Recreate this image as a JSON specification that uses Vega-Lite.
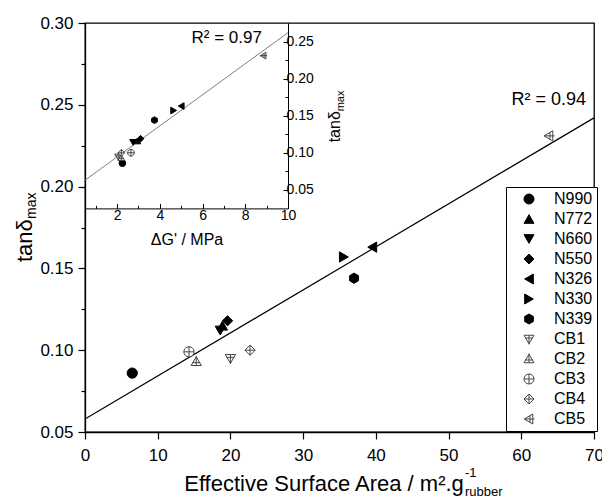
{
  "$schema": "https://vega.github.io/schema/vega-lite/v6.json",
  "width": 509,
  "height": 409,
  "autosize": {"type": "none"},
  "padding": {"left": 85, "top": 23, "right": 8, "bottom": 69},
  "background": "white",
  "config": {
    "font": "Liberation Sans",
    "view": {"stroke": "black", "strokeWidth": 1.3},
    "axis": {"grid": false, "domainColor": "black", "tickColor": "black", "labelColor": "black", "titleColor": "black", "labelFont": "Liberation Sans", "titleFont": "Liberation Sans", "titleFontWeight": "normal", "domainWidth": 1.3, "tickWidth": 1.2},
    "text": {"font": "Liberation Sans", "color": "black"}
  },
  "datasets": {
    "main": [
      {"grade": "N990", "esa": 6.5, "tand": 0.086},
      {"grade": "N772", "esa": 18.9, "tand": 0.115},
      {"grade": "N660", "esa": 18.6, "tand": 0.112},
      {"grade": "N550", "esa": 19.6, "tand": 0.118},
      {"grade": "N326", "esa": 39.5, "tand": 0.163},
      {"grade": "N330", "esa": 35.6, "tand": 0.157},
      {"grade": "N339", "esa": 37.0, "tand": 0.144},
      {"grade": "CB1", "esa": 20.0, "tand": 0.095},
      {"grade": "CB2", "esa": 15.3, "tand": 0.093},
      {"grade": "CB3", "esa": 14.3, "tand": 0.099},
      {"grade": "CB4", "esa": 22.7, "tand": 0.100},
      {"grade": "CB5", "esa": 63.8, "tand": 0.231}
    ],
    "inset": [
      {"grade": "N990", "dg": 2.25, "tand": 0.086},
      {"grade": "N772", "dg": 2.95, "tand": 0.116},
      {"grade": "N660", "dg": 2.75, "tand": 0.114},
      {"grade": "N550", "dg": 3.1, "tand": 0.119},
      {"grade": "N326", "dg": 5.0, "tand": 0.163},
      {"grade": "N330", "dg": 4.65, "tand": 0.157},
      {"grade": "N339", "dg": 3.75, "tand": 0.144},
      {"grade": "CB1", "dg": 2.05, "tand": 0.095},
      {"grade": "CB2", "dg": 2.2, "tand": 0.093},
      {"grade": "CB3", "dg": 2.65, "tand": 0.1},
      {"grade": "CB4", "dg": 2.2, "tand": 0.1},
      {"grade": "CB5", "dg": 8.85, "tand": 0.231}
    ],
    "fitMain": [
      {"esa": 0, "tand": 0.058},
      {"esa": 70, "tand": 0.242}
    ],
    "fitInset": [
      {"dg": 0.5, "tand": 0.063},
      {"dg": 10, "tand": 0.262}
    ],
    "one": [{"k": 1}]
  },
  "layer": [
    {
      "layer": [
        {
          "data": {"name": "fitMain"},
          "mark": {"type": "line", "color": "black", "strokeWidth": 1.2},
          "encoding": {
            "x": {"field": "esa", "type": "quantitative", "scale": {"domain": [0, 70], "nice": false, "zero": false},
              "axis": {"orient": "bottom", "title": null, "values": [0, 5, 10, 15, 20, 25, 30, 35, 40, 45, 50, 55, 60, 65, 70],
                "labelExpr": "datum.value % 10 == 0 ? datum.label : ''",
                "tickSize": {"condition": {"test": "datum.value % 10 == 0", "value": 7}, "value": 4},
                "labelFontSize": 17, "labelPadding": 8, "labelFlush": false}},
            "y": {"field": "tand", "type": "quantitative", "scale": {"domain": [0.05, 0.3], "nice": false, "zero": false},
              "axis": {"orient": "left", "title": null, "values": [0.05, 0.075, 0.1, 0.125, 0.15, 0.175, 0.2, 0.225, 0.25, 0.275, 0.3],
                "labelExpr": "abs(round(datum.value * 1000) % 50) < 1 ? format(datum.value, '.2f') : ''",
                "tickSize": {"condition": {"test": "abs(round(datum.value * 1000) % 50) < 1", "value": 7}, "value": 4},
                "labelFontSize": 17, "labelPadding": 5}}
          }
        },
        {
          "data": {"name": "main"},
          "mark": {"type": "point", "size": 105, "opacity": 1, "fillOpacity": 1, "strokeWidth": 1},
          "encoding": {
            "x": {"field": "esa", "type": "quantitative"},
            "y": {"field": "tand", "type": "quantitative"},
            "shape": {"field": "grade", "type": "nominal",
              "scale": {"domain": ["N990", "N772", "N660", "N550", "N326", "N330", "N339", "CB1", "CB2", "CB3", "CB4", "CB5"],
                "range": ["circle", "triangle-up", "triangle-down", "diamond", "triangle-left", "triangle-right",
                  "M0,-1L0.866,-0.5L0.866,0.5L0,1L-0.866,0.5L-0.866,-0.5Z",
                  "M-1,-0.75L1,-0.75L0,0.95Z M0,-0.75V1.1 M-0.75,-0.2H0.75",
                  "M-1,0.75L1,0.75L0,-0.95Z M0,-1.1V0.75 M-0.75,0.2H0.75",
                  "M1,0A1,1,0,1,1,-1,0A1,1,0,1,1,1,0Z M-1,0H1 M0,-1V1",
                  "M0,-1L1,0L0,1L-1,0Z M-1,0H1 M0,-1V1",
                  "M-0.95,0L0.75,-1L0.75,1Z M-0.95,0H1.1 M0.2,-0.7V0.7"]},
              "legend": {"orient": "none", "legendX": 421, "legendY": 164, "title": null, "padding": 4, "strokeColor": "black", "fillColor": "white", "labelFontSize": 16, "labelFont": "Liberation Sans", "symbolSize": 100, "symbolOffset": 11, "labelOffset": 17, "rowPadding": 4, "symbolStrokeWidth": 1, "labelLimit": 0}},
            "fill": {"field": "grade", "type": "nominal",
              "scale": {"domain": ["N990", "N772", "N660", "N550", "N326", "N330", "N339", "CB1", "CB2", "CB3", "CB4", "CB5"],
                "range": ["black", "black", "black", "black", "black", "black", "black", "white", "white", "white", "white", "white"]},
              "legend": {"orient": "none", "legendX": 421, "legendY": 164, "title": null, "padding": 4, "strokeColor": "black", "fillColor": "white", "labelFontSize": 16, "labelFont": "Liberation Sans", "symbolSize": 100, "symbolOffset": 11, "labelOffset": 17, "rowPadding": 4, "symbolStrokeWidth": 1, "labelLimit": 0}},
            "stroke": {"field": "grade", "type": "nominal",
              "scale": {"domain": ["N990", "N772", "N660", "N550", "N326", "N330", "N339", "CB1", "CB2", "CB3", "CB4", "CB5"],
                "range": ["black", "black", "black", "black", "black", "black", "black", "#444444", "#444444", "#444444", "#444444", "#444444"]},
              "legend": {"orient": "none", "legendX": 421, "legendY": 164, "title": null, "padding": 4, "strokeColor": "black", "fillColor": "white", "labelFontSize": 16, "labelFont": "Liberation Sans", "symbolSize": 100, "symbolOffset": 11, "labelOffset": 17, "rowPadding": 4, "symbolStrokeWidth": 1, "labelLimit": 0}}
          }
        },
        {
          "data": {"name": "one"},
          "mark": {"type": "text", "text": "R² = 0.94", "align": "right", "baseline": "middle", "fontSize": 18},
          "encoding": {"x": {"datum": 68.9, "type": "quantitative"}, "y": {"datum": 0.2528, "type": "quantitative"}}
        },
        {
          "data": {"name": "one"},
          "mark": {"type": "text", "text": "Effective Surface Area / m².g", "align": "right", "baseline": "alphabetic", "fontSize": 22},
          "encoding": {"x": {"datum": 52.1, "type": "quantitative"}, "y": {"datum": 0.0137, "type": "quantitative"}}
        },
        {
          "data": {"name": "one"},
          "mark": {"type": "text", "text": "-1", "align": "left", "baseline": "alphabetic", "fontSize": 13},
          "encoding": {"x": {"datum": 52.25, "type": "quantitative"}, "y": {"datum": 0.0223, "type": "quantitative"}}
        },
        {
          "data": {"name": "one"},
          "mark": {"type": "text", "text": "rubber", "align": "left", "baseline": "alphabetic", "fontSize": 13},
          "encoding": {"x": {"datum": 52.25, "type": "quantitative"}, "y": {"datum": 0.0108, "type": "quantitative"}}
        },
        {
          "data": {"name": "one"},
          "mark": {"type": "text", "text": "tanδ", "align": "left", "baseline": "alphabetic", "fontSize": 22, "angle": 270},
          "encoding": {"x": {"datum": -7.29, "type": "quantitative"}, "y": {"datum": 0.1539, "type": "quantitative"}}
        },
        {
          "data": {"name": "one"},
          "mark": {"type": "text", "text": "max", "align": "left", "baseline": "alphabetic", "fontSize": 14, "angle": 270},
          "encoding": {"x": {"datum": -6.74, "type": "quantitative"}, "y": {"datum": 0.1802, "type": "quantitative"}}
        }
      ]
    },
    {
      "layer": [
        {
          "data": {"name": "fitInset"},
          "mark": {"type": "line", "color": "#808080", "strokeWidth": 1},
          "encoding": {
            "x": {"field": "dg", "type": "quantitative", "scale": {"domain": [0.5, 10], "range": [0, 203], "nice": false, "zero": false},
              "axis": {"orient": "bottom", "offset": -223.6, "title": "ΔG' / MPa", "titleFontSize": 16, "titlePadding": 9,
                "values": [1, 2, 3, 4, 5, 6, 7, 8, 9, 10],
                "labelExpr": "datum.value % 2 == 0 ? datum.label : ''",
                "tickSize": {"condition": {"test": "datum.value % 2 == 0", "value": -5}, "value": -3},
                "labelFontSize": 14, "labelPadding": 5, "labelFlush": false, "domainWidth": 1, "tickWidth": 1}},
            "y": {"field": "tand", "type": "quantitative", "scale": {"domain": [0.025, 0.275], "range": [185.4, 0], "nice": false, "zero": false},
              "axis": {"orient": "right", "offset": -306, "title": null,
                "values": [0.05, 0.075, 0.1, 0.125, 0.15, 0.175, 0.2, 0.225, 0.25],
                "labelExpr": "abs(round(datum.value * 1000) % 50) < 1 ? format(datum.value, '.2f') : ''",
                "tickSize": {"condition": {"test": "abs(round(datum.value * 1000) % 50) < 1", "value": -5}, "value": -3},
                "labelFontSize": 14, "labelPadding": 3, "domainWidth": 1, "tickWidth": 1}}
          }
        },
        {
          "data": {"name": "inset"},
          "mark": {"type": "point", "size": 45, "opacity": 1, "fillOpacity": 1, "strokeWidth": 1},
          "encoding": {
            "x": {"field": "dg", "type": "quantitative"},
            "y": {"field": "tand", "type": "quantitative"},
            "shape": {"field": "grade", "type": "nominal"},
            "fill": {"field": "grade", "type": "nominal"},
            "stroke": {"field": "grade", "type": "nominal"}
          }
        },
        {
          "data": {"name": "one"},
          "mark": {"type": "text", "text": "R² = 0.97", "align": "right", "baseline": "middle", "fontSize": 17},
          "encoding": {"x": {"datum": 8.78, "type": "quantitative"}, "y": {"datum": 0.2544, "type": "quantitative"}}
        },
        {
          "data": {"name": "one"},
          "mark": {"type": "text", "text": "tanδ", "align": "left", "baseline": "alphabetic", "fontSize": 16, "angle": 270},
          "encoding": {"x": {"datum": 12.43, "type": "quantitative"}, "y": {"datum": 0.1141, "type": "quantitative"}}
        },
        {
          "data": {"name": "one"},
          "mark": {"type": "text", "text": "max", "align": "left", "baseline": "alphabetic", "fontSize": 11, "angle": 270},
          "encoding": {"x": {"datum": 12.6, "type": "quantitative"}, "y": {"datum": 0.1559, "type": "quantitative"}}
        }
      ]
    }
  ],
  "resolve": {"scale": {"x": "independent", "y": "independent"}, "axis": {"x": "independent", "y": "independent"}}
}
